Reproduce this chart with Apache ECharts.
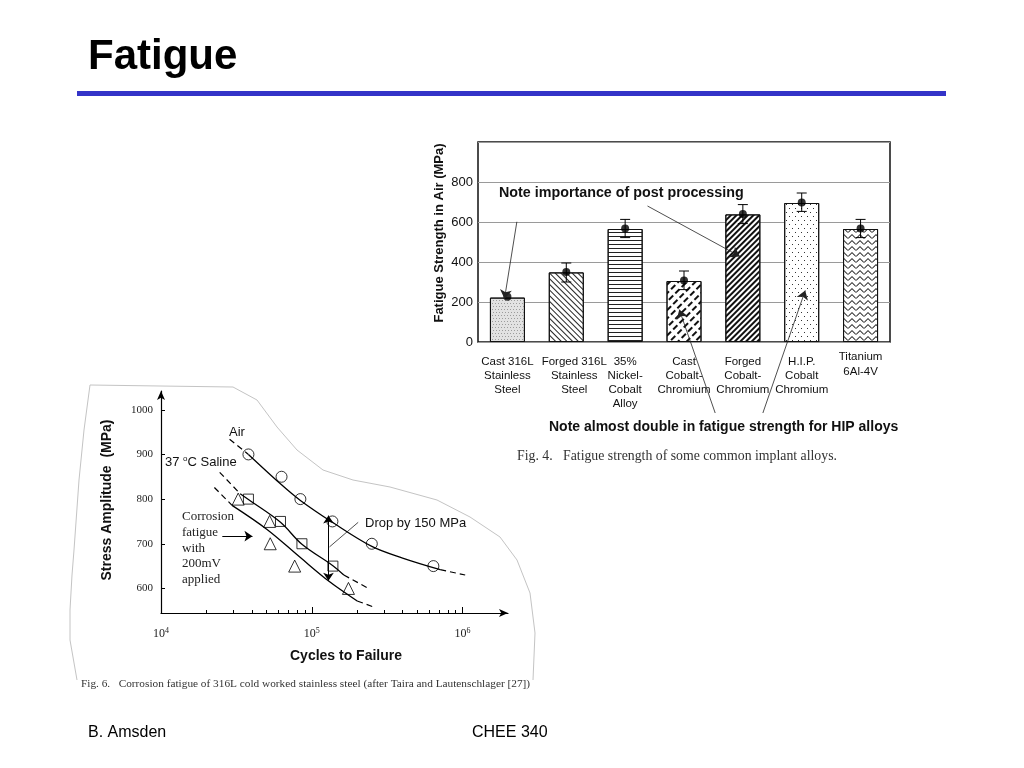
<!DOCTYPE html>
<html><head><meta charset="utf-8">
<script src="https://cdn.jsdelivr.net/npm/echarts@6/dist/echarts.min.js"></script>
<style>html,body{margin:0;padding:0;background:#fff}#c{width:1024px;height:768px}</style>
</head><body><div id="c"></div>
<script>
// ---------- Fig. 4 : fatigue strength of implant alloys ----------
const alloys = ['Cast 316L\nStainless\nSteel', 'Forged 316L\nStainless\nSteel', '35%\nNickel-\nCobalt\nAlloy',
  'Cast\nCobalt-\nChromium', 'Forged\nCobalt-\nChromium', 'H.I.P.\nCobalt\nChromium', 'Titanium\n6Al-4V'];
const fatigueStrength = [222, 348, 565, 305, 638, 695, 565];
const meanPoints = [226, 350, 567, 307, 640, 697, 567];
const errLow = [null, 300, 522, 262, 592, 653, 522];
const errHigh = [null, 395, 613, 355, 687, 745, 613];
const barTicks = [0, 200, 400, 600, 800];
// annotation arrows: [x (category position), MPa] start -> end
const barArrowFrom = [[0.16, 601], [2.38, 680], [3.53, -355], [4.34, -355]];
const barArrowTo = [[-0.05, 216], [3.95, 428], [2.92, 162], [5.06, 258]];

// ---------- Fig. 6 : corrosion fatigue of 316L ----------
const airN = [3.8e4, 6.3e4, 8.4e4, 1.37e5, 2.5e5, 6.4e5];
const airS = [900, 850, 800, 750, 700, 650];
const salineN = [3.8e4, 6.2e4, 8.6e4, 1.38e5];
const salineS = [800, 750, 700, 650];
const corrN = [3.25e4, 5.25e4, 5.3e4, 7.7e4, 1.75e5];
const corrS = [800, 750, 700, 650, 600];
// fitted curves as drawn (solid) and their dashed extrapolations
const airFitN = [3.8e4, 6.3e4, 8.4e4, 1.37e5, 2.5e5, 4e5, 7.1e5];
const airFitS = [900, 832, 797, 748, 694, 668, 642];
const airPreN = [2.85e4, 3.8e4], airPreS = [934, 900];
const airPostN = [7.1e5, 1.04e6], airPostS = [642, 630];
const salFitN = [3.35e4, 3.8e4, 6.2e4, 8.6e4, 1.38e5, 1.63e5];
const salFitS = [812, 799, 748, 699, 651, 630];
const salPreN = [2.45e4, 3.35e4], salPreS = [860, 812];
const salPostN = [1.63e5, 2.32e5], salPostS = [630, 602];
const corFitN = [2.96e4, 5.05e4, 8.4e4, 1.3e5, 2e5];
const corFitS = [786, 732, 669, 616, 572];
const corPreN = [2.26e4, 2.96e4], corPreS = [826, 786];
const corPostN = [2e5, 2.64e5], corPostS = [572, 557];
const snYTicks = [600, 700, 800, 900, 1000];
const snXMajor = [1e4, 1e5, 1e6];
const snXMinor = [2e4,3e4,4e4,5e4,6e4,7e4,8e4,9e4,2e5,3e5,4e5,5e5,6e5,7e5,8e5,9e5];
const dropArrow = [[1.29e5, 617], [1.29e5, 763]];
const dropLeader = [[2.03e5, 748], [1.31e5, 693]];
const corrArrow = [[2.55e4, 717], [4.04e4, 717]];

const pairs = (xs, ys) => xs.map((x, i) => [x, ys[i]]);

const decals = [
  {symbol: 'rect', symbolSize: 1, dashArrayX: [[1, 2], [0, 1, 1, 1]], dashArrayY: [1, 2], color: '#9c9c9c'},
  {symbol: 'rect', symbolSize: 1, dashArrayX: [1, 0], dashArrayY: [1, 2.2], rotation: Math.PI / 4, color: '#222'},
  {symbol: 'rect', symbolSize: 1, dashArrayX: [1, 0], dashArrayY: [1, 2.2], rotation: 0, color: '#222'},
  {symbol: 'rect', symbolSize: 1, dashArrayX: [[6, 3]], dashArrayY: [1.3, 4], rotation: -Math.PI / 4, color: '#111'},
  {symbol: 'rect', symbolSize: 1, dashArrayX: [1, 0], dashArrayY: [1.6, 1.4], rotation: -Math.PI / 4, color: '#111'},
  {symbol: 'rect', symbolSize: 1, dashArrayX: [[1, 5], [0, 3, 1, 2]], dashArrayY: [1, 3], color: '#333'},
  {symbol: 'path://M0,4 L4,0 L8,4 L8,5.3 L4,1.3 L0,5.3 Z', symbolSize: 1, dashArrayX: [8, 0], dashArrayY: [5, 0.5], color: '#222'}
];
const barBg = ['#e2e2e2', '#fff', '#fff', '#fff', '#fff', '#fff', '#fff'];

const SANS = '"Liberation Sans", Arial, sans-serif';
const SERIF = '"Liberation Serif", "Times New Roman", serif';

const chart = echarts.init(document.getElementById('c'), null, {renderer: 'canvas'});

const errData = [];
errLow.forEach((l, i) => { if (l != null) errData.push([i, l, errHigh[i]]); });

// per-label placement tweaks of the category texts (as in the figure)
const labelStyle = [null, {padding: [0, 0, 0, 16]}, null, null, null, null,
  {padding: [-6, 0, 0, 0], lineHeight: 15}];

const dashed = {color: '#000', width: 1.2, type: [6, 4]};
const solid = {color: '#000', width: 1.3};
function curve(xs, ys, style, smooth) {
  return {type: 'line', xAxisIndex: 2, yAxisIndex: 1, data: pairs(xs, ys), showSymbol: false, symbol: 'none',
    smooth: smooth ? 0.35 : false, lineStyle: style, silent: true, z: 3};
}

const option = {
  animation: false,
  backgroundColor: '#fff',
  grid: [
    {left: 478, top: 142, width: 412, height: 200, show: true, borderColor: '#111', borderWidth: 1.5, backgroundColor: 'transparent'},
    {left: 161, top: 391, width: 347, height: 222}
  ],
  xAxis: [
    {gridIndex: 0, type: 'category',
      data: alloys.map((a, i) => labelStyle[i] ? {value: a, textStyle: labelStyle[i]} : a),
      axisLine: {show: false}, axisTick: {show: false},
      axisLabel: {interval: 0, margin: 13, fontFamily: SANS, fontSize: 11.5, lineHeight: 14, color: '#111', verticalAlign: 'top'}},
    {gridIndex: 0, type: 'value', min: -0.5, max: 6.5, show: false},
    {gridIndex: 1, type: 'log', logBase: 10, min: 1e4, max: 2e6,
      axisLine: {show: true, symbol: ['none', 'arrow'], symbolSize: [6, 9], lineStyle: {color: '#000', width: 1.2}},
      axisTick: {show: true, inside: true, length: 3, customValues: snXMinor, lineStyle: {color: '#000'}},
      axisLabel: {show: false}, splitLine: {show: false}, minorTick: {show: false}},
    {gridIndex: 1, type: 'log', logBase: 10, min: 1e4, max: 2e6, position: 'bottom',
      axisLine: {show: false},
      axisTick: {show: true, inside: true, length: 6, customValues: snXMajor, lineStyle: {color: '#000'}},
      axisLabel: {customValues: snXMajor, margin: 14, fontFamily: SERIF, fontSize: 12, color: '#222',
        formatter: v => '{b|10}{s|' + Math.round(Math.log10(v)) + '}',
        rich: {b: {fontFamily: SERIF, fontSize: 12, color: '#222', lineHeight: 14},
               s: {fontFamily: SERIF, fontSize: 8, color: '#222', verticalAlign: 'top', lineHeight: 14, padding: [0, 0, 6, 0]}}},
      splitLine: {show: false}}
  ],
  yAxis: [
    {gridIndex: 0, type: 'value', min: 0, max: 1000, interval: 200,
      axisLine: {show: false}, axisTick: {show: false},
      axisLabel: {margin: 5, fontFamily: SANS, fontSize: 13, color: '#111', formatter: v => (v >= 1000 ? '' : String(v))},
      splitLine: {show: true, lineStyle: {color: '#9a9a9a', width: 1}}},
    {gridIndex: 1, type: 'value', min: 545, max: 1042,
      axisLine: {show: true, symbol: ['none', 'arrow'], symbolSize: [6, 9], lineStyle: {color: '#000', width: 1.2}},
      axisTick: {show: true, inside: true, length: 4, customValues: snYTicks, lineStyle: {color: '#000'}},
      axisLabel: {customValues: snYTicks, margin: 8, fontFamily: SERIF, fontSize: 11, color: '#222', formatter: v => String(v)},
      splitLine: {show: false}}
  ],
  series: [
    {type: 'bar', xAxisIndex: 0, yAxisIndex: 0, barWidth: 35, z: 2,
      data: fatigueStrength.map((v, i) => ({value: v, itemStyle: {color: barBg[i], borderColor: '#111', borderWidth: 1, decal: decals[i]}}))},
    {type: 'custom', xAxisIndex: 0, yAxisIndex: 0, z: 4, data: errData,
      renderItem: function (params, api) {
        const lo = api.coord([api.value(0), api.value(1)]);
        const hi = api.coord([api.value(0), api.value(2)]);
        const w = 5, st = {stroke: '#000', lineWidth: 1};
        return {type: 'group', children: [
          {type: 'line', shape: {x1: lo[0], y1: lo[1], x2: hi[0], y2: hi[1]}, style: st},
          {type: 'line', shape: {x1: lo[0] - w, y1: lo[1], x2: lo[0] + w, y2: lo[1]}, style: st},
          {type: 'line', shape: {x1: hi[0] - w, y1: hi[1], x2: hi[0] + w, y2: hi[1]}, style: st}
        ]};
      }},
    {type: 'scatter', xAxisIndex: 0, yAxisIndex: 0, z: 5, data: meanPoints, symbol: 'circle', symbolSize: 8,
      itemStyle: {color: '#000'}},
    {type: 'lines', coordinateSystem: 'cartesian2d', xAxisIndex: 1, yAxisIndex: 0, z: 6, clip: false, silent: true,
      symbol: ['none', 'arrow'], symbolSize: 9, lineStyle: {color: '#222', width: 0.8, opacity: 1},
      data: barArrowFrom.map((p, i) => ({coords: [p, barArrowTo[i]]}))},

    curve(airFitN, airFitS, solid, true),
    curve(airPreN, airPreS, dashed, false),
    curve(airPostN, airPostS, dashed, false),
    curve(salFitN, salFitS, solid, true),
    curve(salPreN, salPreS, dashed, false),
    curve(salPostN, salPostS, dashed, false),
    curve(corFitN, corFitS, solid, true),
    curve(corPreN, corPreS, dashed, false),
    curve(corPostN, corPostS, dashed, false),
    {type: 'scatter', xAxisIndex: 2, yAxisIndex: 1, z: 5, data: pairs(airN, airS), symbol: 'circle', symbolSize: 11,
      itemStyle: {color: 'rgba(255,255,255,0)', borderColor: '#000', borderWidth: 1}},
    {type: 'scatter', xAxisIndex: 2, yAxisIndex: 1, z: 5, data: pairs(salineN, salineS), symbol: 'rect', symbolSize: 10,
      itemStyle: {color: 'rgba(255,255,255,0)', borderColor: '#000', borderWidth: 1}},
    {type: 'scatter', xAxisIndex: 2, yAxisIndex: 1, z: 5, data: pairs(corrN, corrS), symbol: 'triangle', symbolSize: 12,
      itemStyle: {color: 'rgba(255,255,255,0)', borderColor: '#000', borderWidth: 1}},
    {type: 'lines', coordinateSystem: 'cartesian2d', xAxisIndex: 2, yAxisIndex: 1, z: 6, clip: false, silent: true,
      symbolSize: 8, lineStyle: {color: '#000', width: 1, opacity: 1},
      data: [
        {coords: dropArrow, symbol: ['arrow', 'arrow']},
        {coords: dropLeader, symbol: ['none', 'none'], lineStyle: {width: 0.8, color: '#222'}},
        {coords: corrArrow, symbol: ['none', 'arrow']}
      ]}
  ],
  graphic: [
    {type: 'text', x: 88, y: 57, style: {text: 'Fatigue', font: 'bold 42px ' + SANS, fill: '#000', textVerticalAlign: 'middle', verticalAlign: 'middle'}},
    {type: 'rect', shape: {x: 77, y: 91, width: 869, height: 5}, style: {fill: '#3434c8'}},
    {type: 'text', x: 88, y: 733, style: {text: 'B. Amsden', font: '16px ' + SANS, fill: '#000', textVerticalAlign: 'middle', verticalAlign: 'middle'}},
    {type: 'text', x: 472, y: 733, style: {text: 'CHEE 340', font: '16px ' + SANS, fill: '#000', textVerticalAlign: 'middle', verticalAlign: 'middle'}},
    // Fig. 4 texts
    {type: 'text', x: 439, y: 233, rotation: Math.PI / 2, style: {text: 'Fatigue Strength in Air (MPa)', font: 'bold 13px ' + SANS, fill: '#111',
      textAlign: 'center', align: 'center', textVerticalAlign: 'middle', verticalAlign: 'middle'}},
    {type: 'text', x: 499, y: 193, z: 10, style: {text: 'Note importance of post processing', font: 'bold 14.3px ' + SANS, fill: '#111', textVerticalAlign: 'middle', verticalAlign: 'middle'}},
    {type: 'text', x: 549, y: 427, style: {text: 'Note almost double in fatigue strength for HIP alloys', font: 'bold 14px ' + SANS, fill: '#111', textVerticalAlign: 'middle', verticalAlign: 'middle'}},
    {type: 'text', x: 517, y: 456, style: {text: 'Fig. 4.   Fatigue strength of some common implant alloys.', font: '13.8px ' + SERIF, fill: '#333', textVerticalAlign: 'middle', verticalAlign: 'middle'}},
    // Fig. 6 texts
    {type: 'polyline', shape: {points: [[77, 680], [70, 640], [70, 610], [72, 575], [74, 550], [79, 480], [84, 430], [90, 385],
      [160, 386], [233, 387], [257, 400], [277, 427], [297, 450], [323, 470], [353, 480], [390, 487], [437, 500], [470, 517],
      [500, 537], [517, 560], [530, 593], [535, 633], [533, 680]]}, style: {stroke: '#c4c4c4', lineWidth: 1, fill: null}},
    {type: 'text', x: 107, y: 500, rotation: Math.PI / 2, style: {text: 'Stress Amplitude  (MPa)', font: 'bold 14px ' + SANS, fill: '#111',
      textAlign: 'center', align: 'center', textVerticalAlign: 'middle', verticalAlign: 'middle'}},
    {type: 'text', x: 346, y: 656, style: {text: 'Cycles to Failure', font: 'bold 14px ' + SANS, fill: '#111',
      textAlign: 'center', align: 'center', textVerticalAlign: 'middle', verticalAlign: 'middle'}},
    {type: 'text', x: 229, y: 432, style: {text: 'Air', font: '13px ' + SANS, fill: '#111', textVerticalAlign: 'middle', verticalAlign: 'middle'}},
    {type: 'text', x: 165, y: 462, style: {text: '37 {s|o}C Saline', font: '13px ' + SANS, fill: '#111', textVerticalAlign: 'middle', verticalAlign: 'middle',
      rich: {s: {font: '8px ' + SANS, fill: '#111', verticalAlign: 'top', padding: [0, 0, 6, 0]}}}},
    {type: 'text', x: 182, y: 509, style: {text: 'Corrosion\nfatigue\nwith\n200mV\napplied', font: '13px ' + SERIF, lineHeight: 15.7, fill: '#222', textVerticalAlign: 'top', verticalAlign: 'top'}},
    {type: 'text', x: 365, y: 523, style: {text: 'Drop by 150 MPa', font: '13px ' + SANS, fill: '#111', textVerticalAlign: 'middle', verticalAlign: 'middle'}},
    {type: 'text', x: 81, y: 684, style: {text: 'Fig. 6.   Corrosion fatigue of 316L cold worked stainless steel (after Taira and Lautenschlager [27])', font: '11.3px ' + SERIF, fill: '#333', textVerticalAlign: 'middle', verticalAlign: 'middle'}}
  ]
};
chart.setOption(option);
</script>
</body></html>
